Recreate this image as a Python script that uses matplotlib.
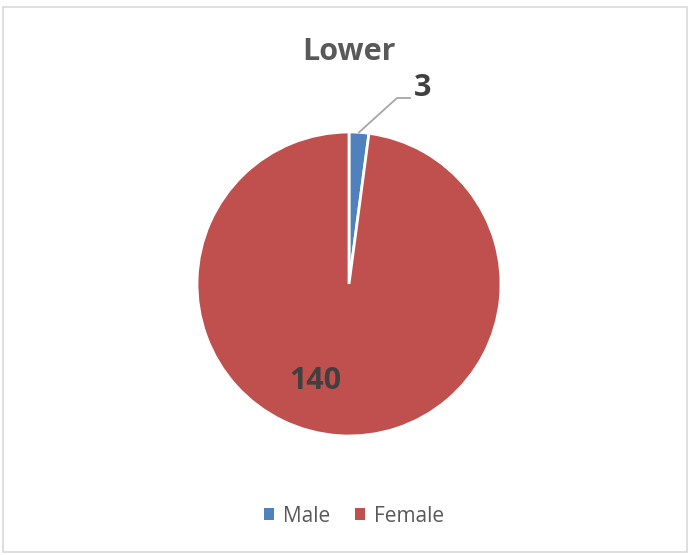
import matplotlib.pyplot as plt
import numpy as np

labels = ['Male', 'Female']
values = [3, 140]
colors = ['#4F81BD', '#C0504D']
title = 'Lower'

W, H = 691, 555
fig = plt.figure(figsize=(W / 100, H / 100), dpi=100)
ax = fig.add_axes([0, 0, 1, 1])

# chart border
ax.add_patch(plt.Rectangle((3.5, 3.5), W - 7, H - 10, fill=False,
                           edgecolor='#D9D9D9', linewidth=1.2))

cx, cy, r = 349, H - 284, 152
wedges, _ = ax.pie(values, colors=colors, startangle=90, counterclock=False,
                   center=(cx, cy), radius=r, frame=True,
                   wedgeprops=dict(edgecolor='white', linewidth=2))
ax.set_xlim(0, W)
ax.set_ylim(0, H)
ax.set_aspect('equal')
ax.axis('off')

font = 'Open Sans'
ax.text(349, H - 52, title, ha='center', va='center', fontsize=22,
        fontweight='bold', color='#595959', family=font)

# label for Male with leader line
w = wedges[0]
mid = np.deg2rad((w.theta1 + w.theta2) / 2)
sx, sy = cx + r * np.cos(mid), cy + r * np.sin(mid)
ax.plot([sx, 397, 410], [sy, H - 98, H - 98], color='#A6A6A6', linewidth=1.3)
ax.text(414, H - 88, str(values[0]), ha='left', va='center', fontsize=22,
        fontweight='bold', color='#404040', family=font)

# label for Female inside
ax.text(315, H - 381, str(values[1]), ha='center', va='center', fontsize=22,
        fontweight='bold', color='#404040', family=font)

# legend
handles = [plt.Rectangle((0, 0), 1, 1, facecolor=c) for c in colors]
leg = fig.legend(handles, labels, loc='center', bbox_to_anchor=(354 / W, 1 - 516 / H),
                 ncol=2, frameon=False, handlelength=0.5, handleheight=0.5,
                 handletextpad=0.4, columnspacing=1.2,
                 prop=dict(family=font, size=15))
for t in leg.get_texts():
    t.set_color('#595959')

fig.savefig('out.png', dpi=100)
